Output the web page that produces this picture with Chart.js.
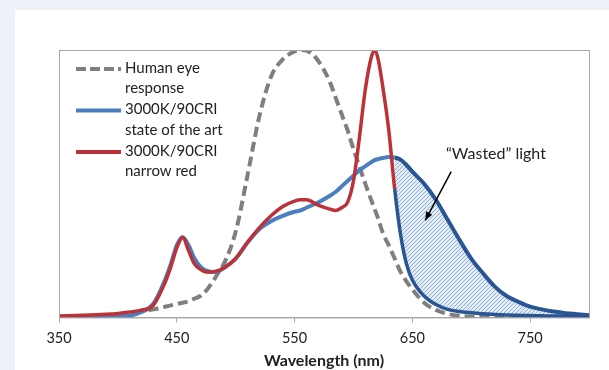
<!DOCTYPE html>
<html lang="en">
<head>
  <meta charset="UTF-8">
  <title>Wasted light</title>
  <script src="https://cdn.jsdelivr.net/npm/chart.js"></script>
  <style>
    body { margin: 0; background: #eef2f8; width: 609px; height: 370px; overflow: hidden; }
    #panel { position: absolute; left: 15px; top: 10px; width: 594px; height: 360px; background: #fff; }
  </style>
</head>
<body>
  <div id="panel"><canvas id="grafico" width="594" height="360"></canvas></div>

  <script>
    const wavelengths = [350, 370, 390, 400, 410, 420, 430, 440, 445, 450, 455, 460, 465, 470, 475, 480, 485, 490,
      500, 510, 520, 530, 540, 550, 555, 560, 570, 580, 585, 590, 595, 600, 605, 610, 615, 618, 621, 625, 630, 635,
      640, 645, 650, 660, 670, 680, 690, 700, 710, 720, 730, 740, 750, 760, 770, 780, 790, 800];

    const eyeResponse = [0, 0.002, 0.006, 0.01, 0.015, 0.022, 0.03, 0.04, 0.045, 0.05, 0.055, 0.06, 0.07, 0.08, 0.1, 0.13, 0.165, 0.2,
      0.32, 0.53, 0.75, 0.9, 0.965, 0.995, 1.0, 0.998, 0.96, 0.88, 0.82, 0.76, 0.7, 0.63, 0.565, 0.5, 0.44, 0.405, 0.37, 0.315, 0.27, 0.22,
      0.17, 0.135, 0.105, 0.055, 0.028, 0.013, 0.006, 0.003, 0.002, 0.001, 0, 0, 0, 0, 0, 0, 0, 0];

    const stateOfArt = [0, 0, 0, 0.002, 0.006, 0.02, 0.05, 0.14, 0.2, 0.27, 0.3, 0.27, 0.22, 0.19, 0.175, 0.17, 0.172, 0.185,
      0.22, 0.28, 0.33, 0.36, 0.38, 0.395, 0.4, 0.41, 0.43, 0.455, 0.47, 0.49, 0.51, 0.53, 0.55, 0.565, 0.58, 0.588, 0.592, 0.596, 0.6, 0.598,
      0.59, 0.57, 0.545, 0.5, 0.44, 0.365, 0.29, 0.22, 0.165, 0.115, 0.08, 0.058, 0.04, 0.03, 0.022, 0.016, 0.012, 0.008];

    const narrowRed = [0.005, 0.008, 0.012, 0.015, 0.02, 0.027, 0.045, 0.13, 0.19, 0.26, 0.3, 0.25, 0.2, 0.18, 0.17, 0.17, 0.175, 0.185,
      0.22, 0.28, 0.335, 0.38, 0.415, 0.435, 0.44, 0.44, 0.42, 0.405, 0.4, 0.41, 0.43, 0.51, 0.67, 0.85, 0.97, 1.0, 0.965, 0.86, 0.7, 0.48,
      0.31, 0.2, 0.14, 0.08, 0.048, 0.03, 0.022, 0.017, 0.014, 0.011, 0.009, 0.008, 0.007, 0.006, 0.005, 0.005, 0.004, 0.004];

    const tickValues = [350, 450, 550, 650, 750];
    const legendLabels = [['Human eye', 'response'], ['3000K/90CRI', 'state of the art'], ['3000K/90CRI', 'narrow red']];
    const wastedStart = 632;

    const FONT = 'Lato, "Open Sans", sans-serif';
    const gris = '#7f7f7f', azul = '#4a7ebf', azulOscuro = '#2a5595', rojo = '#bb3338';

    // patrón rayado para la zona de luz desperdiciada
    function rayado() {
      const c = document.createElement('canvas');
      c.width = 4; c.height = 4;
      const g = c.getContext('2d');
      g.fillStyle = '#e4edf6';
      g.fillRect(0, 0, 4, 4);
      g.strokeStyle = '#8eaed2';
      g.lineWidth = 1;
      g.beginPath();
      g.moveTo(0, 4); g.lineTo(4, 0);
      g.moveTo(-1, 1); g.lineTo(1, -1);
      g.moveTo(3, 5); g.lineTo(5, 3);
      g.stroke();
      return g.createPattern(c, 'repeat');
    }
    const patron = rayado();

    const toPts = arr => wavelengths.map((x, i) => ({x, y: arr[i]}));

    const marco = {
      id: 'marco',
      afterDraw(chart) {
        const {ctx, chartArea: a} = chart;
        ctx.save();
        ctx.strokeStyle = '#a6a6a6';
        ctx.lineWidth = 1;
        ctx.strokeRect(a.left + 0.5, a.top + 0.5, a.right - a.left, a.bottom - a.top);
        ctx.restore();
      }
    };

    const leyenda = {
      id: 'leyenda',
      afterDraw(chart) {
        const {ctx, chartArea: a} = chart;
        const estilos = [
          {color: gris, dash: [10, 4], width: 4},
          {color: azul, dash: [], width: 4},
          {color: rojo, dash: [], width: 4}
        ];
        ctx.save();
        ctx.font = '15px ' + FONT;
        ctx.textBaseline = 'middle';
        ctx.fillStyle = '#222';
        let y = a.top + 18;
        legendLabels.forEach((lines, i) => {
          const s = estilos[i];
          ctx.beginPath();
          ctx.setLineDash(s.dash);
          ctx.strokeStyle = s.color;
          ctx.lineWidth = s.width;
          ctx.moveTo(a.left + 17, y + 1);
          ctx.lineTo(a.left + 62, y + 1);
          ctx.stroke();
          lines.forEach((t, j) => ctx.fillText(t, a.left + 66, y + j * 20.5));
          y += 41.5;
        });
        ctx.restore();
      }
    };

    const flecha = {
      id: 'flecha',
      afterDraw(chart) {
        const {ctx} = chart;
        const xs = chart.scales.x, ys = chart.scales.y;
        const x0 = xs.getPixelForValue(683), y0 = ys.getPixelForValue(0.545);
        const x1 = xs.getPixelForValue(661), y1 = ys.getPixelForValue(0.363);
        ctx.save();
        ctx.strokeStyle = '#000';
        ctx.fillStyle = '#000';
        ctx.lineWidth = 1.5;
        ctx.beginPath();
        ctx.moveTo(x0, y0);
        ctx.lineTo(x1, y1);
        ctx.stroke();
        const ang = Math.atan2(y1 - y0, x1 - x0);
        ctx.beginPath();
        ctx.moveTo(x1, y1);
        ctx.lineTo(x1 - 9 * Math.cos(ang - 0.4), y1 - 9 * Math.sin(ang - 0.4));
        ctx.lineTo(x1 - 9 * Math.cos(ang + 0.4), y1 - 9 * Math.sin(ang + 0.4));
        ctx.closePath();
        ctx.fill();
        ctx.font = '16px ' + FONT;
        ctx.fillStyle = '#222';
        ctx.textAlign = 'center';
        ctx.textBaseline = 'middle';
        ctx.fillText('\u201CWasted\u201D light', xs.getPixelForValue(721), ys.getPixelForValue(0.61));
        ctx.restore();
      }
    };

    const enDesperdicio = c => c.p0.parsed.x >= wastedStart;

    new Chart(document.getElementById('grafico'), {
      type: 'line',
      data: {
        datasets: [
          {
            label: 'Human eye response',
            data: toPts(eyeResponse),
            borderColor: gris,
            borderDash: [10, 5],
            borderWidth: 4,
            fill: false,
            order: 3
          },
          {
            label: '3000K/90CRI state of the art',
            data: toPts(stateOfArt),
            borderColor: azul,
            borderWidth: 4,
            fill: {target: 2},
            backgroundColor: 'rgba(0,0,0,0)',
            segment: {
              borderColor: c => enDesperdicio(c) ? azulOscuro : undefined,
              backgroundColor: c => enDesperdicio(c) ? patron : 'rgba(0,0,0,0)'
            },
            order: 2
          },
          {
            label: '3000K/90CRI narrow red',
            data: toPts(narrowRed),
            borderColor: rojo,
            borderWidth: 3.5,
            fill: false,
            segment: {
              borderColor: c => c.p0.parsed.x >= 635 ? azulOscuro : undefined
            },
            order: 1
          }
        ]
      },
      options: {
        responsive: false,
        animation: false,
        parsing: false,
        elements: { point: { radius: 0 }, line: { cubicInterpolationMode: 'monotone' } },
        layout: { padding: { left: 44, right: 20, top: 40, bottom: 0 } },
        scales: {
          x: {
            type: 'linear', min: 350, max: 800,
            afterBuildTicks: s => { s.ticks = tickValues.map(v => ({value: v})); },
            ticks: { padding: 7, color: '#222', font: { family: FONT, size: 14.5 } },
            grid: { drawOnChartArea: false, tickLength: 5, color: '#a6a6a6' },
            border: { color: '#a6a6a6' },
            title: { display: true, text: 'Wavelength (nm)', color: '#222',
              font: { family: FONT, size: 16, weight: 'bold' }, padding: { top: -3, bottom: 0 } }
          },
          y: { display: false, min: 0, max: 1 }
        },
        plugins: {
          legend: { display: false },
          tooltip: { enabled: false }
        }
      },
      plugins: [marco, leyenda, flecha]
    });
  </script>
</body>
</html>
